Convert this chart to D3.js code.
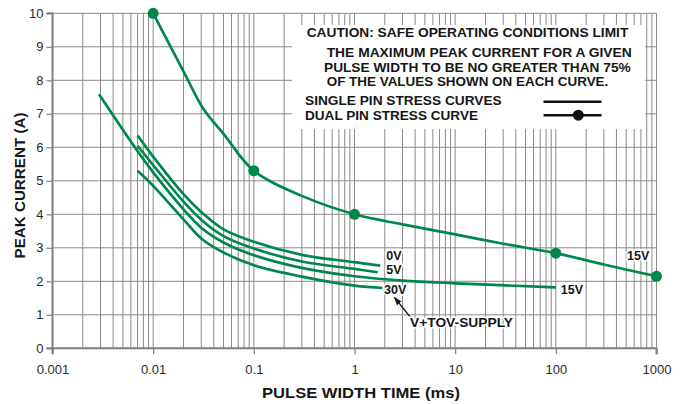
<!DOCTYPE html>
<html>
<head>
<meta charset="utf-8">
<script src="https://cdn.jsdelivr.net/npm/d3@7"></script>
<style>
  body { margin: 0; background: #fff; }
  svg { display: block; font-family: "Liberation Sans", Arial, sans-serif; }
</style>
</head>
<body>
<svg id="chart" width="684" height="404"></svg>
<script>
// axis values
var xTickValues = [0.001, 0.01, 0.1, 1, 10, 100, 1000],
  xTickLabels = ["0.001", "0.01", "0.1", "1", "10", "100", "1000"],
  yTickValues = [0, 1, 2, 3, 4, 5, 6, 7, 8, 9, 10],
  minorMults = [2, 3, 4, 5, 6, 7, 8, 9];

// single pin stress curves, [pulse width ms, peak current A]
var curve0V = [[0.007, 6.35], [0.01, 5.72], [0.02, 4.6], [0.03, 4.07], [0.05, 3.55], [0.1, 3.18], [0.3, 2.79], [1, 2.57], [1.8, 2.47]];
var curve5V = [[0.007, 6.04], [0.01, 5.47], [0.02, 4.38], [0.03, 3.84], [0.05, 3.35], [0.1, 2.98], [0.3, 2.59], [1, 2.37], [1.7, 2.27]];
var curve15V = [[0.0029, 7.58], [0.007, 5.88], [0.01, 5.25], [0.02, 4.15], [0.03, 3.6], [0.05, 3.16], [0.1, 2.78], [0.3, 2.4], [1, 2.15], [3, 2.02], [10, 1.94], [100, 1.82]];
var curve30V = [[0.007, 5.3], [0.01, 4.85], [0.02, 3.85], [0.03, 3.28], [0.05, 2.86], [0.1, 2.48], [0.3, 2.14], [1, 1.87], [1.9, 1.8]];

// dual pin stress curve (15V) and its marked points
var dualCurve = [[0.01, 10], [0.02, 8.27], [0.0315, 7.15], [0.05, 6.4], [0.1, 5.3], [0.3, 4.55], [1, 4.0], [3, 3.7], [10, 3.4], [30, 3.12], [100, 2.84], [300, 2.5], [1000, 2.15]];
var dualDots = [[0.01, 10], [0.1, 5.3], [1, 4.0], [100, 2.84], [1000, 2.15]];

var cautionLines = [
  "CAUTION: SAFE OPERATING CONDITIONS LIMIT",
  "THE MAXIMUM PEAK CURRENT FOR A GIVEN",
  "PULSE WIDTH TO BE NO GREATER THAN 75%",
  "OF THE VALUES SHOWN ON EACH CURVE."
];

var green = "#00874c",
  gridColor = "#8a8a8a",
  ink = "#161616";

var svg = d3.select("#chart");

var x = d3.scaleLog().domain([0.001, 1000]).range([52.5, 656.5]),
  y = d3.scaleLinear().domain([0, 10]).range([348.3, 13.3]);

// grid
var grid = svg.append("g").attr("class", "grid");
var vLines = [];
xTickValues.forEach(function (d, i) {
  vLines.push(d);
  if (i < xTickValues.length - 1)
    minorMults.forEach(function (m) { vLines.push(d * m); });
});

grid.selectAll(".v").data(vLines).enter().append("line")
  .attr("x1", function (d) { return x(d); })
  .attr("x2", function (d) { return x(d); })
  .attr("y1", y(10)).attr("y2", y(0))
  .attr("stroke", gridColor).attr("stroke-width", 1);

grid.selectAll(".h").data(yTickValues).enter().append("line")
  .attr("x1", x(0.001)).attr("x2", x(1000))
  .attr("y1", function (d) { return y(d); })
  .attr("y2", function (d) { return y(d); })
  .attr("stroke", gridColor).attr("stroke-width", 1);

// white panel for the caution note
svg.append("rect")
  .attr("x", 292).attr("y", 25)
  .attr("width", 353).attr("height", 104)
  .attr("fill", "#fff");

// axes
var yAxis = svg.append("g")
  .attr("transform", "translate(" + x(0.001) + ",0)")
  .call(d3.axisLeft(y).tickValues(yTickValues).tickSize(6).tickPadding(3));

var xAxis = svg.append("g")
  .attr("transform", "translate(0," + y(0) + ")")
  .call(d3.axisBottom(x).tickValues(xTickValues).tickSize(6).tickPadding(10)
    .tickFormat(function (d, i) { return xTickLabels[i]; }));

[xAxis, yAxis].forEach(function (a) {
  a.select(".domain").attr("stroke", "#808080").attr("stroke-width", 2);
  a.selectAll(".tick line").attr("stroke", "#808080").attr("stroke-width", 1.2);
  a.selectAll(".tick text")
    .attr("fill", "#2a2a2a")
    .style("font-family", "'Liberation Sans', Arial, sans-serif")
    .style("font-size", "13px");
});
xAxis.select(".domain").attr("d", "M" + x(0.001) + ",6V0H" + x(1000) + "V6");
yAxis.select(".domain").attr("d", "M-6," + y(0) + "H0V" + y(10) + "H-6");

// axis titles
svg.append("text")
  .attr("x", 361).attr("y", 398)
  .attr("text-anchor", "middle")
  .attr("font-size", 14.5).attr("font-weight", "bold")
  .attr("fill", ink)
  .attr("textLength", 198).attr("lengthAdjust", "spacingAndGlyphs")
  .text("PULSE WIDTH TIME (ms)");

svg.append("text")
  .attr("transform", "translate(25,185.5) rotate(-90)")
  .attr("text-anchor", "middle")
  .attr("font-size", 14.5).attr("font-weight", "bold")
  .attr("fill", ink)
  .attr("textLength", 146).attr("lengthAdjust", "spacingAndGlyphs")
  .text("PEAK CURRENT (A)");

// curves
var line = d3.line()
  .x(function (d) { return x(d[0]); })
  .y(function (d) { return y(d[1]); })
  .curve(d3.curveCatmullRom.alpha(0.5));

var curves = svg.append("g").attr("fill", "none").attr("stroke", green)
  .attr("stroke-width", 2.7).attr("stroke-linecap", "butt").attr("stroke-linejoin", "round");

[curve0V, curve5V, curve15V, curve30V].forEach(function (c) {
  curves.append("path").attr("d", line(c));
});
curves.append("path").attr("d", line(dualCurve));

svg.append("g").selectAll("circle").data(dualDots).enter().append("circle")
  .attr("cx", function (d) { return x(d[0]); })
  .attr("cy", function (d) { return y(d[1]); })
  .attr("r", 5.5)
  .attr("fill", green);

// curve labels
function endOf(c) { return c[c.length - 1]; }

var labels = [
  {text: "0V", px: x(endOf(curve0V)[0]) + 6, py: 259.5},
  {text: "5V", px: x(endOf(curve0V)[0]) + 6, py: 273.5},
  {text: "30V", px: x(endOf(curve30V)[0]) + 1.5, py: 293.5},
  {text: "15V", px: x(endOf(curve15V)[0]) + 5, py: 293.5},
  {text: "15V", px: 627, py: 260}
];

svg.append("g").selectAll("text").data(labels).enter().append("text")
  .attr("x", function (d) { return d.px; })
  .attr("y", function (d) { return d.py; })
  .attr("font-size", 12.5).attr("font-weight", "bold")
  .attr("fill", ink)
  .attr("stroke", "#fff").attr("stroke-width", 3)
  .attr("paint-order", "stroke")
  .text(function (d) { return d.text; });

// V+ TOV supply arrow
svg.append("defs").append("marker")
  .attr("id", "arrow")
  .attr("viewBox", "0 0 10 10")
  .attr("refX", 9).attr("refY", 5)
  .attr("markerWidth", 7).attr("markerHeight", 7)
  .attr("orient", "auto")
  .append("path").attr("d", "M0,1.5L10,5L0,8.5Z").attr("fill", ink);

svg.append("line")
  .attr("x1", 411).attr("y1", 318)
  .attr("x2", 394.5).attr("y2", 297.5)
  .attr("stroke", ink).attr("stroke-width", 1.2)
  .attr("marker-end", "url(#arrow)");

svg.append("text")
  .attr("x", 410).attr("y", 327)
  .attr("font-size", 13).attr("font-weight", "bold")
  .attr("fill", ink)
  .attr("stroke", "#fff").attr("stroke-width", 3).attr("paint-order", "stroke")
  .attr("textLength", 103).attr("lengthAdjust", "spacingAndGlyphs")
  .text("V+TOV-SUPPLY");

// caution note
var cautionPos = [
  {x: 306.7, y: 36.7, w: 321.6},
  {x: 326.7, y: 57.3, w: 305},
  {x: 324, y: 71.7, w: 306.7},
  {x: 326.7, y: 86, w: 281.6}
];

svg.append("g").selectAll("text").data(cautionLines).enter().append("text")
  .attr("x", function (d, i) { return cautionPos[i].x; })
  .attr("y", function (d, i) { return cautionPos[i].y; })
  .attr("textLength", function (d, i) { return cautionPos[i].w; })
  .attr("lengthAdjust", "spacingAndGlyphs")
  .attr("font-size", 12.5).attr("font-weight", "bold")
  .attr("fill", ink)
  .text(function (d) { return d; });

// legend
var legend = svg.append("g");
legend.append("text")
  .attr("x", 305).attr("y", 105.2)
  .attr("textLength", 196.7).attr("lengthAdjust", "spacingAndGlyphs")
  .attr("font-size", 12.5).attr("font-weight", "bold").attr("fill", ink)
  .text("SINGLE PIN STRESS CURVES");
legend.append("text")
  .attr("x", 305).attr("y", 119.5)
  .attr("textLength", 173).attr("lengthAdjust", "spacingAndGlyphs")
  .attr("font-size", 12.5).attr("font-weight", "bold").attr("fill", ink)
  .text("DUAL PIN STRESS CURVE");

legend.append("line")
  .attr("x1", 543.5).attr("x2", 601.5).attr("y1", 101.7).attr("y2", 101.7)
  .attr("stroke", "#111").attr("stroke-width", 2.5);
legend.append("line")
  .attr("x1", 543.5).attr("x2", 601.5).attr("y1", 115.2).attr("y2", 115.2)
  .attr("stroke", "#111").attr("stroke-width", 2.5);
legend.append("circle")
  .attr("cx", 578.3).attr("cy", 115.2).attr("r", 5.5)
  .attr("fill", "#111");
</script>
</body>
</html>
